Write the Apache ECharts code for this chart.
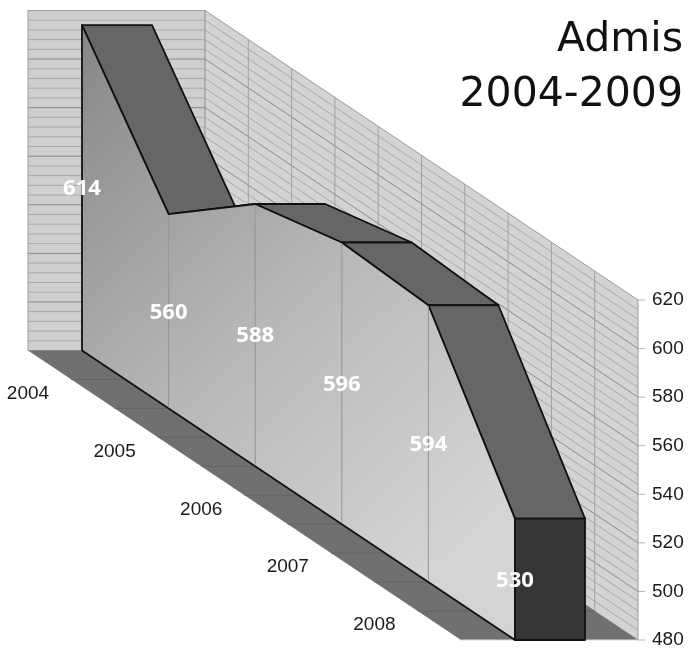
<!DOCTYPE html>
<html>
<head>
<meta charset="utf-8">
<style>html,body{margin:0;padding:0;background:#fff}#c{width:688px;height:651px}</style>
<script src="https://cdn.jsdelivr.net/npm/echarts@6/dist/echarts.min.js"></script>
</head>
<body>
<div id="c"></div>
<script>
const titleLines = ['Admis', '2004-2009'];
const years = ['2004', '2005', '2006', '2007', '2008', '2009'];
const yearLabels = ['2004', '2005', '2006', '2007', '2008'];
const admis = [614, 560, 588, 596, 594, 530];
const yMin = 480, yMax = 620, yStep = 20, wallStep = 4;

// Oblique projection parameters for the pseudo-3D look
const riseX = 57.9;       // px the baseline drops per year
const depthFront = -54, depthBox = 70, depthBack = 123;
const lastIdx = years.length - 1;

function proj(api, i, v, d) {
  const p = api.coord([i, v]);
  return [p[0] + (d || 0), p[1] - (lastIdx - i) * riseX];
}
function line(a, b, color, w) {
  return {type: 'line', shape: {x1: a[0], y1: a[1], x2: b[0], y2: b[1]},
    style: {stroke: color, lineWidth: w || 1, fill: null}, silent: true};
}
function poly(points, fill, stroke, w) {
  return {type: 'polygon', shape: {points},
    style: {fill, stroke: stroke || null, lineWidth: w || 0, lineJoin: 'round'}, silent: true};
}

function renderWalls(params, api) {
  const kids = [];
  const wallFill = '#cfcfcf';
  // left wall
  kids.push(poly([proj(api,0,yMin,depthFront),proj(api,0,yMax,depthFront),proj(api,0,yMax,depthBack),proj(api,0,yMin,depthBack)], wallFill, '#a0a0a0', 1));
  // back wall
  kids.push(poly([proj(api,0,yMin,depthBack),proj(api,0,yMax,depthBack),proj(api,lastIdx,yMax,depthBack),proj(api,lastIdx,yMin,depthBack)], '#d3d3d3', '#9a9a9a', 1));
  for (let v = yMin + wallStep; v < yMax; v += wallStep) {
    const c = (v - yMin) % yStep === 0 ? '#8a8a8a' : '#a8a8a8';
    kids.push(line(proj(api,0,v,depthFront), proj(api,0,v,depthBack), c, 1));
    kids.push(line(proj(api,0,v,depthBack), proj(api,lastIdx,v,depthBack), c, 1));
  }
  for (let k = 1; k < lastIdx * 2; k++) {
    kids.push(line(proj(api,k/2,yMin,depthBack), proj(api,k/2,yMax,depthBack), '#a2a2a2', 1));
  }
  // axis ticks on the right edge of the back wall
  for (let v = yMin; v <= yMax; v += yStep) {
    const a = proj(api,lastIdx,v,depthBack);
    kids.push(line(a, [a[0] + 7, a[1]], '#b4b4b4', 1));
  }
  // floor
  kids.push(poly([proj(api,0,yMin,depthFront),proj(api,0,yMin,depthBack),proj(api,lastIdx,yMin,depthBack),proj(api,lastIdx,yMin,depthFront)], '#707070'));
  for (let k = 1; k < lastIdx * 2; k++) {
    kids.push(line(proj(api,k/2,yMin,depthFront), proj(api,k/2,yMin,depthBack), '#636363', 1));
  }
  kids.push(line(proj(api,lastIdx,yMin,depthFront), proj(api,lastIdx,yMin,depthBack), '#d8d8d8', 1));
  return {type: 'group', children: kids};
}

function renderTop(params, api) {
  const i = api.value(0);
  if (i >= lastIdx) return;
  const v = api.value(1), n = admis[i + 1];
  return poly([proj(api,i,v,0),proj(api,i,v,depthBox),proj(api,i+1,n,depthBox),proj(api,i+1,n,0)], '#666666', '#111', 1.8);
}

function renderFront(params, api) {
  if (params.dataIndex !== 0) return;
  const pts = admis.map((v, i) => proj(api, i, v, 0));
  pts.push(proj(api, lastIdx, yMin, 0), proj(api, 0, yMin, 0));
  const kids = [poly(pts, {type: 'linear', x: 0, y: 0, x2: 1, y2: 0.75, colorStops: [
    {offset: 0, color: '#868686'}, {offset: 0.55, color: '#b8b8b8'}, {offset: 1, color: '#d4d4d4'}]}, '#111', 1.8)];
  for (let i = 1; i < lastIdx; i++) {
    const a = proj(api, i, admis[i], 0), b = proj(api, i, yMin, 0);
    kids.push(line([a[0], a[1] + 1], [b[0], b[1] - 1], '#949494', 1));
  }
  // closing end of the volume
  kids.push(poly([proj(api,lastIdx,admis[lastIdx],0),proj(api,lastIdx,admis[lastIdx],depthBox),proj(api,lastIdx,yMin,depthBox),proj(api,lastIdx,yMin,0)], '#363636', '#111', 1.8));
  return {type: 'group', children: kids};
}

function renderValueLabel(params, api) {
  const i = api.value(0), v = api.value(1);
  const p = proj(api, i, (v + yMin) / 2, 0);
  return {type: 'text', silent: true, style: {x: p[0], y: p[1] + 1, text: String(v), fill: '#fff',
    font: 'bold 22px "Noto Sans"', align: 'center', verticalAlign: 'middle'}};
}

function renderYearLabel(params, api) {
  const i = api.value(0);
  const p = proj(api, i, yMin, depthFront);
  return {type: 'text', silent: true, style: {x: p[0], y: p[1] + 43, text: yearLabels[i], fill: '#1a1a1a',
    font: '19px "Liberation Sans"', align: 'center', verticalAlign: 'middle'}};
}

const pairs = admis.map((v, i) => [i, v]);
const chart = echarts.init(document.getElementById('c'), null, {renderer: 'canvas'});
chart.setOption({
  animation: false,
  backgroundColor: '#fff',
  title: {
    text: titleLines.join('\n'), left: 678, top: 8, textAlign: 'right',
    textStyle: {fontFamily: '"DejaVu Sans"', fontWeight: 'normal', fontSize: 41, lineHeight: 55, color: '#111'}
  },
  grid: {left: 82, width: 433, top: 300, height: 340},
  xAxis: {type: 'value', min: 0, max: lastIdx, show: false},
  yAxis: {
    type: 'value', min: yMin, max: yMax, interval: yStep, position: 'right', offset: 123,
    axisLine: {show: false},
    axisTick: {show: false},
    axisLabel: {fontFamily: '"Liberation Sans"', fontSize: 19, color: '#1a1a1a', margin: 14, padding: [2, 0, 0, 0]},
    splitLine: {show: false}
  },
  series: [
    {type: 'custom', coordinateSystem: 'cartesian2d', clip: false, data: [[0, yMin]], renderItem: renderWalls, silent: true, z: 1},
    {type: 'custom', coordinateSystem: 'cartesian2d', clip: false, data: pairs, renderItem: renderTop, silent: true, z: 2},
    {type: 'custom', coordinateSystem: 'cartesian2d', clip: false, data: pairs, renderItem: renderFront, silent: true, z: 3},
    {type: 'custom', coordinateSystem: 'cartesian2d', clip: false, data: pairs, renderItem: renderValueLabel, silent: true, z: 4},
    {type: 'custom', coordinateSystem: 'cartesian2d', clip: false, data: yearLabels.map((y, i) => [i, yMin]), renderItem: renderYearLabel, silent: true, z: 4}
  ]
});
</script>
</body>
</html>
